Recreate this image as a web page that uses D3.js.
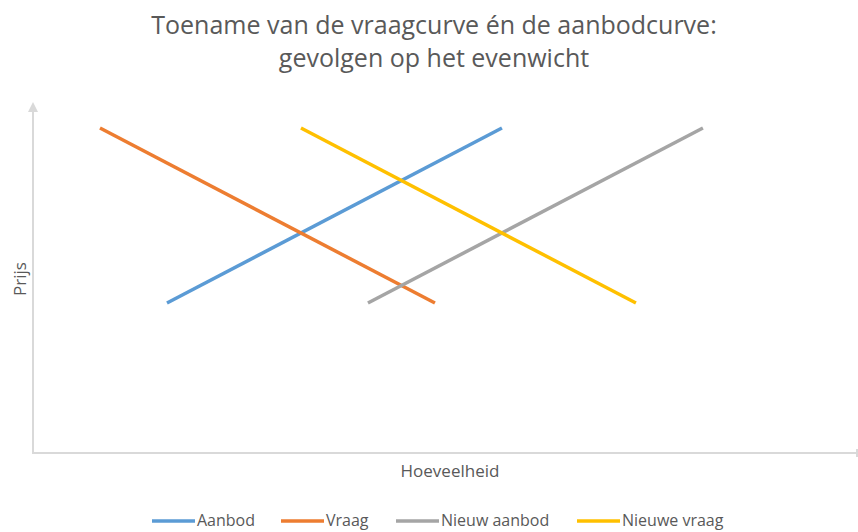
<!DOCTYPE html>
<html>
<head>
<meta charset="utf-8">
<script src="https://cdn.jsdelivr.net/npm/d3@7"></script>
<style>
  body { margin: 0; background: #fff; }
  text { font-family: "Open Sans", "Noto Sans", sans-serif; fill: #595959; }
</style>
</head>
<body>
<div class="wrapper"></div>
<script>
// data
var seriesNames = ['Aanbod', 'Vraag', 'Nieuw aanbod', 'Nieuwe vraag'];
var colors      = ['#5b9bd5', '#ed7d31', '#a5a5a5', '#ffc000'];
var aanbod      = [[2, 3], [7, 6.5]];
var vraag       = [[1, 6.5], [6, 3]];
var nieuwAanbod = [[5, 3], [10, 6.5]];
var nieuweVraag = [[4, 6.5], [9, 3]];
var titleLines  = ['Toename van de vraagcurve én de aanbodcurve:', 'gevolgen op het evenwicht'];

var series = [aanbod, vraag, nieuwAanbod, nieuweVraag];

var W = 858, H = 532;
var margin = {top: 103, right: 0, bottom: 79, left: 33};

var svg = d3.select('.wrapper').append('svg')
    .attr('width', W)
    .attr('height', H);

var x = d3.scaleLinear().domain([0, 12.3]).range([margin.left, 857]);
var y = d3.scaleLinear().domain([0, 7]).range([H - margin.bottom, margin.top]);

// title
svg.append('text')
    .attr('x', 434).attr('y', 34)
    .attr('text-anchor', 'middle')
    .style('font-size', '25px')
    .selectAll('tspan')
    .data(titleLines)
    .enter().append('tspan')
    .attr('x', 434)
    .attr('dy', (d, i) => i ? 33 : 0)
    .text(d => d);

// axes
var axisColor = '#d9d9d9';
svg.append('line')
    .attr('x1', x(0)).attr('x2', x(0))
    .attr('y1', y(0)).attr('y2', y(7) + 6)
    .attr('stroke', axisColor).attr('stroke-width', 2);
svg.append('path')
    .attr('d', `M${x(0) - 5},${y(7) + 9} L${x(0)},${y(7) - 1} L${x(0) + 5},${y(7) + 9} Z`)
    .attr('fill', axisColor);
svg.append('line')
    .attr('x1', x(0) - 1).attr('x2', 857)
    .attr('y1', y(0)).attr('y2', y(0))
    .attr('stroke', axisColor).attr('stroke-width', 2);
svg.append('line')
    .attr('x1', 857).attr('x2', 857)
    .attr('y1', y(0) - 4).attr('y2', y(0) + 4)
    .attr('stroke', axisColor).attr('stroke-width', 2);

// axis titles
svg.append('text')
    .attr('transform', 'translate(26,279) rotate(-90)')
    .attr('text-anchor', 'middle')
    .style('font-size', '17px')
    .text('Prijs');
svg.append('text')
    .attr('x', 450).attr('y', 477)
    .attr('text-anchor', 'middle')
    .style('font-size', '17px')
    .text('Hoeveelheid');

// lines
var line = d3.line().x(d => x(d[0])).y(d => y(d[1]));
svg.selectAll('.series')
    .data(series)
    .enter().append('path')
    .attr('class', 'series')
    .attr('d', line)
    .attr('fill', 'none')
    .attr('stroke', (d, i) => colors[i])
    .attr('stroke-width', 3.5);

// legend (kept just inside the bottom edge)
var legendX = [152, 281, 396, 577];
var legend = svg.selectAll('.legend')
    .data(seriesNames)
    .enter().append('g')
    .attr('class', 'legend')
    .attr('transform', (d, i) => `translate(${legendX[i]},521)`);
legend.append('line')
    .attr('x1', 0).attr('x2', 43)
    .attr('stroke', (d, i) => colors[i])
    .attr('stroke-width', 3.5);
legend.append('text')
    .attr('x', 45).attr('y', 5)
    .style('font-size', '16px')
    .text(d => d);
</script>
</body>
</html>
